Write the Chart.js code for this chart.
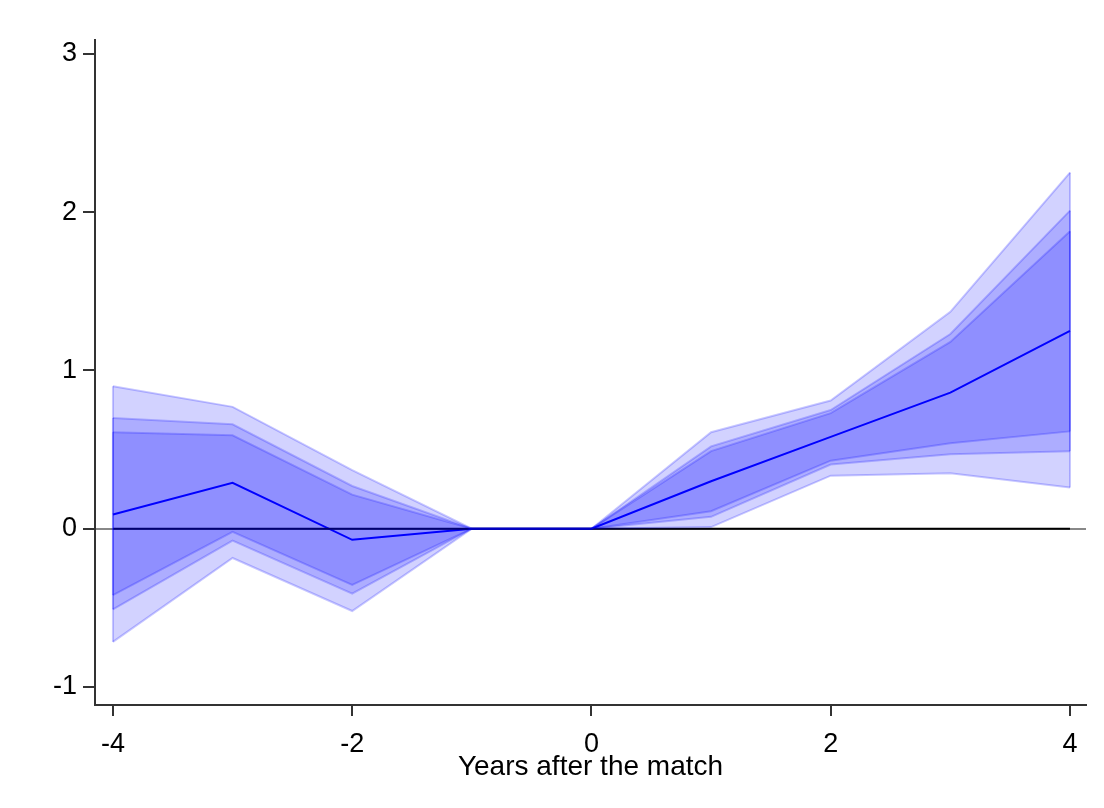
<!DOCTYPE html>
<html>
<head>
<meta charset="utf-8">
<script src="https://cdn.jsdelivr.net/npm/chart.js@4.4.0/dist/chart.umd.min.js"></script>
<style>
  html, body { margin: 0; padding: 0; background: #fff; }
  #wrap { width: 1104px; height: 808px; }
</style>
</head>
<body>
<div id="wrap"><canvas id="myChart" width="1104" height="808"></canvas></div>
<script>
// years relative to the match
var years = [-4, -3, -2, -1, 0, 1, 2, 3, 4];
// point estimates
var estimate = [0.09, 0.29, -0.07, 0, 0, 0.30, 0.58, 0.86, 1.25];
// confidence bands (outer = widest)
var outerHi = [0.90, 0.77, 0.37, 0, 0, 0.61, 0.81, 1.37, 2.25];
var outerLo = [-0.715, -0.185, -0.52, 0, 0, 0.01, 0.335, 0.35, 0.26];
var midHi = [0.70, 0.66, 0.27, 0, 0, 0.52, 0.75, 1.23, 2.01];
var midLo = [-0.51, -0.075, -0.41, 0, 0, 0.075, 0.405, 0.47, 0.49];
var innerHi = [0.61, 0.59, 0.215, 0, 0, 0.49, 0.73, 1.18, 1.88];
var innerLo = [-0.42, -0.02, -0.355, 0, 0, 0.11, 0.43, 0.54, 0.615];
var xTicks = [-4, -2, 0, 2, 4];
var yTicks = [-1, 0, 1, 2, 3];

function pts(vals) {
    return years.map(function (x, i) { return { x: x, y: vals[i] }; });
}
// vertical closing edge of a band at one year
function edge(i, lo, hi) {
    return [{ x: years[i], y: lo[i] }, { x: years[i], y: hi[i] }];
}

var bandFill = 'rgba(0, 0, 255, 0.175)';
var bandLine = 'rgba(0, 0, 255, 0.22)';
var last = years.length - 1;

function band(lo, hi) {
    return [
        { data: pts(lo), borderColor: bandLine, borderWidth: 2, fill: false },
        { data: pts(hi), borderColor: bandLine, borderWidth: 2, fill: '-1', backgroundColor: bandFill },
        { data: edge(0, lo, hi), borderColor: bandLine, borderWidth: 2, fill: false },
        { data: edge(last, lo, hi), borderColor: bandLine, borderWidth: 2, fill: false }
    ];
}

var datasets = []
    .concat(band(outerLo, outerHi))
    .concat(band(midLo, midHi))
    .concat(band(innerLo, innerHi));

// zero line across the event window
datasets.push({ data: pts(years.map(function () { return 0; })), borderColor: '#000', borderWidth: 2, fill: false });
// point estimate
datasets.push({ data: pts(estimate), borderColor: '#0000ff', borderWidth: 2, fill: false });

var ctx = document.getElementById('myChart').getContext('2d');
var chart = new Chart(ctx, {
    type: 'line',
    data: { datasets: datasets },
    options: {
        responsive: false,
        animation: false,
        layout: { padding: { top: 40, right: 18, left: 0, bottom: 0 } },
        elements: { point: { radius: 0 }, line: { tension: 0 } },
        plugins: { legend: { display: false }, tooltip: { enabled: false } },
        scales: {
            x: {
                type: 'linear',
                min: -4.15,
                max: 4.134,
                afterBuildTicks: function (s) { s.ticks = xTicks.map(function (v) { return { value: v }; }); },
                afterFit: function (s) { s.height = 103; },
                border: { display: true, color: '#333', width: 2 },
                grid: { drawOnChartArea: false, tickLength: 11, tickColor: '#333', lineWidth: 2 },
                ticks: { color: '#000', font: { family: 'Liberation Sans', size: 27 }, padding: 12, maxRotation: 0 },
                title: { display: true, text: 'Years after the match', color: '#000', font: { family: 'Liberation Sans', size: 28 }, padding: { top: 0, bottom: 24 } }
            },
            y: {
                min: -1.114,
                max: 3.088,
                afterBuildTicks: function (s) { s.ticks = yTicks.map(function (v) { return { value: v }; }); },
                afterFit: function (s) { s.width = 95; },
                border: { display: true, color: '#333', width: 2 },
                grid: {
                    tickLength: 12,
                    tickColor: '#333',
                    lineWidth: 2,
                    color: function (c) { return c.tick && c.tick.value === 0 ? '#888' : 'rgba(0,0,0,0)'; }
                },
                ticks: { color: '#000', font: { family: 'Liberation Sans', size: 27 }, padding: 6 }
            }
        }
    }
});
</script>
</body>
</html>
